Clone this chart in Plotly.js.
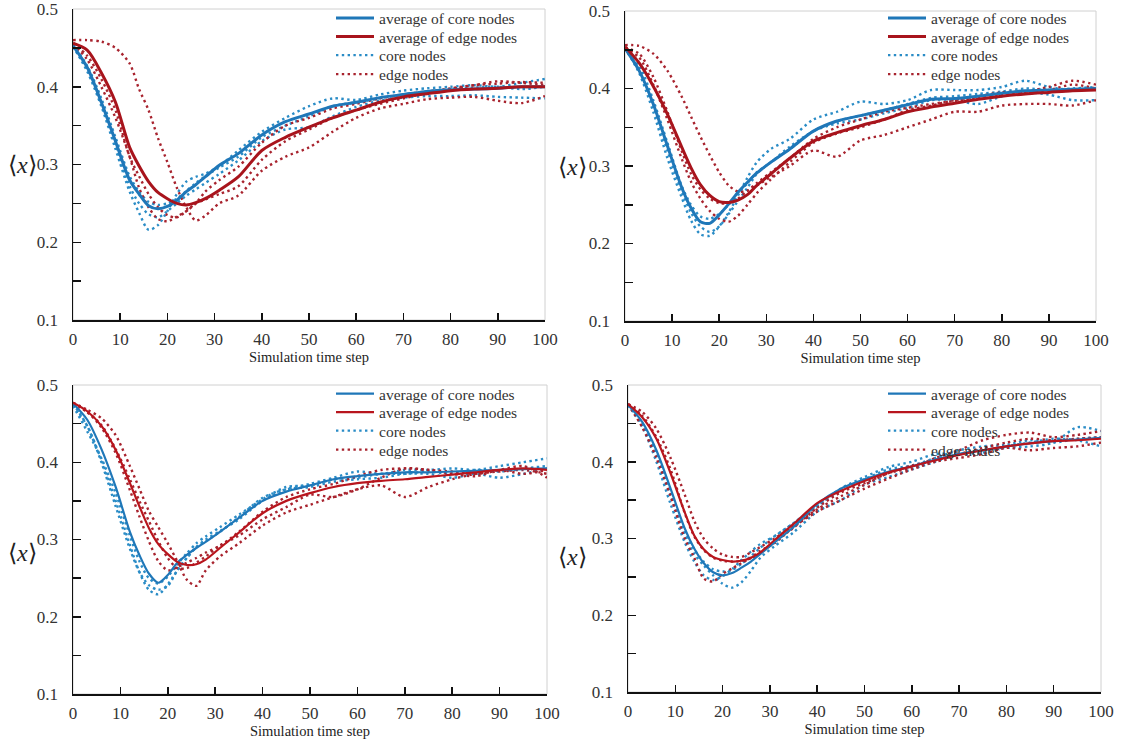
<!DOCTYPE html>
<html>
<head>
<meta charset="utf-8">
<script src="https://cdn.plot.ly/plotly-3.0.1.min.js"></script>
<style>html,body{margin:0;padding:0;background:#fff;}#chart{width:1121px;height:742px;}</style>
</head>
<body>
<div id="chart"></div>
<script>
// Simulation time steps (x values)
const steps = [0,3,6,9,12,14,16,18,20,22,24,26,28,31,35,40,45,50,55,60,65,70,75,80,85,90,95,100];

// Legend labels and titles
const legendLabels = ["average of core nodes", "average of edge nodes", "core nodes", "edge nodes"];
const xTitle = "Simulation time step";
const yTitle = "⟨<i>x</i>⟩";

// ---- Panel 1 (top-left) ----
const p1AvgCore = [.453,.425,.380,.330,.280,.262,.247,.243,.246,.254,.265,.274,.284,.299,.314,.338,.355,.365,.375,.380,.386,.390,.394,.396,.397,.398,.400,.400];
const p1AvgEdge = [.456,.447,.418,.380,.322,.298,.278,.264,.256,.250,.248,.251,.256,.267,.284,.318,.335,.348,.360,.370,.380,.387,.391,.395,.397,.398,.400,.400];
const p1Core1 = [.452,.420,.375,.320,.265,.238,.216,.222,.240,.262,.278,.284,.288,.298,.318,.342,.360,.375,.385,.383,.390,.395,.398,.400,.402,.400,.405,.410];
const p1Core2 = [.451,.423,.378,.325,.272,.250,.236,.232,.240,.250,.260,.268,.276,.288,.305,.330,.345,.348,.362,.374,.382,.386,.388,.388,.389,.387,.386,.385];
const p1Core3 = [.454,.427,.385,.335,.285,.265,.252,.248,.250,.256,.266,.276,.285,.296,.310,.335,.350,.362,.375,.380,.385,.390,.394,.397,.399,.400,.397,.400];
const p1Edge1 = [.460,.460,.458,.450,.430,.397,.370,.334,.303,.270,.245,.228,.234,.250,.260,.292,.310,.322,.342,.360,.372,.378,.384,.386,.387,.382,.379,.388];
const p1Edge2 = [.456,.440,.410,.370,.310,.285,.262,.245,.235,.232,.240,.250,.255,.262,.272,.306,.330,.345,.360,.370,.378,.385,.392,.398,.402,.404,.406,.405];
const p1Edge3 = [.455,.435,.400,.360,.310,.270,.245,.230,.227,.233,.240,.250,.265,.280,.297,.328,.350,.360,.372,.378,.385,.390,.394,.397,.402,.407,.405,.402];

// ---- Panel 2 (top-right) ----
const p2AvgCore = [.452,.423,.380,.326,.273,.246,.228,.226,.237,.251,.266,.279,.291,.305,.322,.345,.358,.365,.372,.379,.386,.387,.390,.394,.397,.398,.399,.400];
const p2AvgEdge = [.454,.433,.403,.367,.325,.298,.276,.262,.254,.253,.256,.263,.275,.290,.310,.332,.343,.352,.360,.370,.376,.381,.386,.390,.393,.395,.397,.398];
const p2Core1 = [.452,.420,.370,.310,.260,.230,.212,.210,.222,.240,.262,.285,.305,.322,.335,.360,.370,.383,.380,.385,.398,.398,.398,.402,.410,.402,.398,.400];
const p2Core2 = [.452,.425,.378,.320,.268,.240,.222,.215,.222,.238,.255,.272,.290,.305,.322,.345,.355,.360,.368,.375,.385,.385,.380,.390,.395,.392,.385,.385];
const p2Core3 = [.451,.430,.385,.330,.275,.250,.235,.232,.238,.250,.264,.278,.292,.305,.325,.345,.358,.365,.372,.380,.388,.390,.393,.396,.400,.398,.400,.402];
const p2Edge1 = [.456,.455,.445,.423,.390,.364,.338,.314,.292,.275,.267,.268,.275,.286,.300,.320,.312,.333,.340,.350,.360,.370,.370,.378,.380,.380,.378,.385];
const p2Edge2 = [.452,.440,.405,.360,.310,.280,.258,.242,.232,.228,.236,.250,.265,.283,.305,.330,.342,.350,.360,.372,.378,.385,.390,.395,.396,.402,.410,.405];
const p2Edge3 = [.453,.445,.415,.370,.320,.290,.270,.258,.252,.252,.258,.268,.278,.292,.310,.335,.350,.360,.370,.375,.380,.384,.388,.392,.395,.398,.405,.400];

// ---- Panel 3 (bottom-left) ----
const p3AvgCore = [.476,.455,.417,.368,.310,.280,.256,.244,.254,.270,.280,.289,.297,.310,.328,.350,.362,.370,.378,.382,.385,.387,.387,.388,.389,.390,.391,.392];
const p3AvgEdge = [.477,.466,.447,.416,.373,.343,.315,.294,.281,.271,.267,.268,.274,.289,.309,.334,.350,.360,.368,.373,.376,.378,.381,.384,.387,.390,.392,.390];
const p3Core1 = [.474,.447,.403,.350,.293,.258,.235,.229,.242,.260,.276,.290,.300,.311,.326,.350,.365,.372,.380,.388,.385,.390,.390,.392,.390,.395,.400,.405];
const p3Core2 = [.473,.440,.405,.360,.305,.272,.250,.243,.252,.268,.282,.295,.304,.316,.332,.352,.368,.370,.378,.380,.385,.385,.388,.385,.390,.388,.392,.395];
const p3Core3 = [.476,.447,.400,.343,.288,.258,.241,.235,.240,.260,.276,.290,.298,.310,.329,.354,.365,.368,.375,.378,.380,.385,.385,.380,.385,.380,.385,.392];
const p3Edge1 = [.477,.468,.457,.435,.395,.366,.337,.316,.295,.272,.248,.240,.260,.278,.295,.318,.335,.345,.355,.365,.370,.355,.368,.378,.385,.388,.390,.385];
const p3Edge2 = [.477,.465,.448,.417,.378,.350,.324,.298,.276,.263,.263,.270,.278,.292,.305,.326,.342,.358,.355,.365,.380,.392,.390,.388,.385,.390,.395,.380];
const p3Edge3 = [.476,.465,.445,.412,.364,.330,.298,.272,.260,.264,.270,.276,.283,.292,.310,.336,.355,.365,.372,.382,.390,.392,.390,.385,.382,.390,.385,.390];

// ---- Panel 4 (bottom-right) ----
const p4AvgCore = [.474,.452,.415,.365,.313,.287,.268,.256,.252,.255,.262,.270,.280,.295,.315,.345,.365,.377,.387,.394,.403,.410,.415,.420,.424,.427,.429,.431];
const p4AvgEdge = [.475,.458,.430,.385,.334,.304,.286,.276,.272,.270,.271,.275,.282,.298,.319,.346,.362,.375,.386,.394,.402,.409,.415,.420,.424,.427,.428,.430];
const p4Core1 = [.474,.450,.410,.357,.305,.280,.265,.252,.241,.236,.243,.258,.275,.290,.308,.335,.350,.370,.380,.390,.400,.410,.415,.418,.420,.425,.445,.440];
const p4Core2 = [.474,.446,.400,.345,.295,.270,.252,.246,.251,.260,.272,.283,.293,.303,.320,.342,.365,.380,.393,.400,.410,.410,.412,.420,.425,.430,.428,.420];
const p4Core3 = [.474,.450,.413,.360,.310,.286,.270,.260,.257,.259,.267,.277,.288,.303,.320,.343,.362,.377,.390,.395,.405,.415,.420,.422,.428,.425,.430,.432];
const p4Edge1 = [.475,.465,.443,.405,.357,.323,.300,.287,.279,.276,.276,.282,.289,.300,.317,.338,.355,.370,.385,.392,.405,.415,.428,.435,.438,.432,.435,.440];
const p4Edge2 = [.475,.445,.405,.355,.300,.275,.248,.244,.254,.261,.268,.275,.284,.294,.315,.335,.350,.365,.378,.390,.400,.405,.410,.418,.415,.418,.420,.425];
const p4Edge3 = [.475,.460,.432,.390,.333,.303,.285,.275,.271,.270,.271,.274,.281,.296,.314,.340,.360,.372,.385,.395,.402,.410,.418,.425,.430,.428,.430,.432];

const panels = [
  {avgCore: p1AvgCore, avgEdge: p1AvgEdge, cores: [p1Core1,p1Core2,p1Core3], edges: [p1Edge1,p1Edge2,p1Edge3]},
  {avgCore: p2AvgCore, avgEdge: p2AvgEdge, cores: [p2Core1,p2Core2,p2Core3], edges: [p2Edge1,p2Edge2,p2Edge3]},
  {avgCore: p3AvgCore, avgEdge: p3AvgEdge, cores: [p3Core1,p3Core2,p3Core3], edges: [p3Edge1,p3Edge2,p3Edge3]},
  {avgCore: p4AvgCore, avgEdge: p4AvgEdge, cores: [p4Core1,p4Core2,p4Core3], edges: [p4Edge1,p4Edge2,p4Edge3]}
];

const W = 1121, H = 742;
// plot-area pixel boxes [left, right, top, bottom]
const boxes = [[73,545,9,320],[625,1096,11,321],[73,547,385,694],[628,1101,385,692]];
// legend: left x of the entry, and centre y of each of the 4 rows
const legendX = [331, 883, 331, 883];
const legendRows = [[18.5,37,55.5,74.5],[18.5,37,55.5,74.5],[394,412.5,431,450],[394,412.5,431,450]];
const yLabelPos = [[22,165],[572,167],[22,553],[572,557]];
const avgWidth = [3,3,2.2,2.2];

const colAvgCore = '#1f77b8';
const colAvgEdge = ['#a8141c','#a8141c','#b8151d','#b8151d'];
const colCore = '#2a8cc6';
const colEdge = '#a8232e';
const serif = 'Liberation Serif';

const data = [];
const layout = {
  width: W, height: H,
  margin: {l:0, r:0, t:0, b:0},
  paper_bgcolor: '#fff', plot_bgcolor: '#fff',
  font: {family: serif, color: '#333'},
  showlegend: true,
  shapes: [], annotations: []
};

let legendCount = 0;
function newLegend(px, py) {
  legendCount += 1;
  const key = 'legend' + (legendCount === 1 ? '' : legendCount);
  layout[key] = {
    x: px / W, y: 1 - py / H, xanchor: 'left', yanchor: 'middle',
    bgcolor: 'rgba(0,0,0,0)', borderwidth: 0, itemwidth: 38, tracegroupgap: 0,
    font: {family: serif, size: 15.5, color: '#333'}
  };
  return key;
}

panels.forEach((p, i) => {
  const n = i + 1;
  const xa = 'x' + (n === 1 ? '' : n), ya = 'y' + (n === 1 ? '' : n);
  const b = boxes[i];
  const lgs = legendRows[i].map(ry => newLegend(legendX[i], ry));
  p.cores.forEach((arr, k) => data.push({
    x: steps, y: arr, xaxis: xa, yaxis: ya, type: 'scatter', mode: 'lines',
    line: {color: colCore, width: 2.4, dash: '2.4px,3.4px', shape: 'spline', smoothing: 0.8},
    name: legendLabels[2], legend: lgs[2], showlegend: k === 0, hoverinfo: 'skip'
  }));
  p.edges.forEach((arr, k) => data.push({
    x: steps, y: arr, xaxis: xa, yaxis: ya, type: 'scatter', mode: 'lines',
    line: {color: colEdge, width: 2.4, dash: '2.4px,3.4px', shape: 'spline', smoothing: 0.8},
    name: legendLabels[3], legend: lgs[3], showlegend: k === 0, hoverinfo: 'skip'
  }));
  data.push({
    x: steps, y: p.avgCore, xaxis: xa, yaxis: ya, type: 'scatter', mode: 'lines',
    line: {color: colAvgCore, width: avgWidth[i], shape: 'spline', smoothing: 0.8},
    name: legendLabels[0], legend: lgs[0], hoverinfo: 'skip'
  });
  data.push({
    x: steps, y: p.avgEdge, xaxis: xa, yaxis: ya, type: 'scatter', mode: 'lines',
    line: {color: colAvgEdge[i], width: avgWidth[i], shape: 'spline', smoothing: 0.8},
    name: legendLabels[1], legend: lgs[1], hoverinfo: 'skip'
  });

  const axKey = 'xaxis' + (n === 1 ? '' : n), ayKey = 'yaxis' + (n === 1 ? '' : n);
  layout[axKey] = {
    domain: [b[0]/W, b[1]/W], anchor: ya, range: [0, 100], tick0: 0, dtick: 10,
    ticks: 'inside', ticklen: 7, tickwidth: 1.5, tickcolor: '#111',
    showline: true, linecolor: '#111', linewidth: 1.5, showgrid: false, zeroline: false,
    tickfont: {family: serif, size: 17, color: '#333'}, ticklabelstandoff: 3,
    ticklabeloverflow: 'allow',
    title: {text: xTitle, font: {family: serif, size: 14.5, color: '#222'}, standoff: 0},
    automargin: false, fixedrange: true
  };
  layout[ayKey] = {
    domain: [1 - b[3]/H, 1 - b[2]/H], anchor: xa, range: [0.1, 0.5], tick0: 0.1, dtick: 0.1,
    tickformat: '.1f', ticks: 'inside', ticklen: 8, tickwidth: 1.5, tickcolor: '#111',
    minor: {dtick: 0.05, tick0: 0.1, ticks: 'inside', ticklen: 8, tickwidth: 1.5, tickcolor: '#111', showgrid: false},
    showline: true, linecolor: '#111', linewidth: 1.5, showgrid: false, zeroline: false,
    tickfont: {family: serif, size: 17, color: '#333'}, ticklabelstandoff: 10,
    ticklabeloverflow: 'allow',
    automargin: false, fixedrange: true
  };
  layout.shapes.push({
    type: 'rect', xref: xa + ' domain', yref: ya + ' domain', x0: 0, x1: 1, y0: 0, y1: 1,
    line: {color: '#d0d0d0', width: 1}, layer: 'below'
  });
  layout.annotations.push({
    xref: 'paper', yref: 'paper', x: yLabelPos[i][0]/W, y: 1 - yLabelPos[i][1]/H,
    xanchor: 'center', yanchor: 'middle', showarrow: false, text: yTitle,
    font: {family: serif, size: 24, color: '#222'}
  });
});

Plotly.newPlot('chart', data, layout, {displayModeBar: false, staticPlot: true});
</script>
</body>
</html>
